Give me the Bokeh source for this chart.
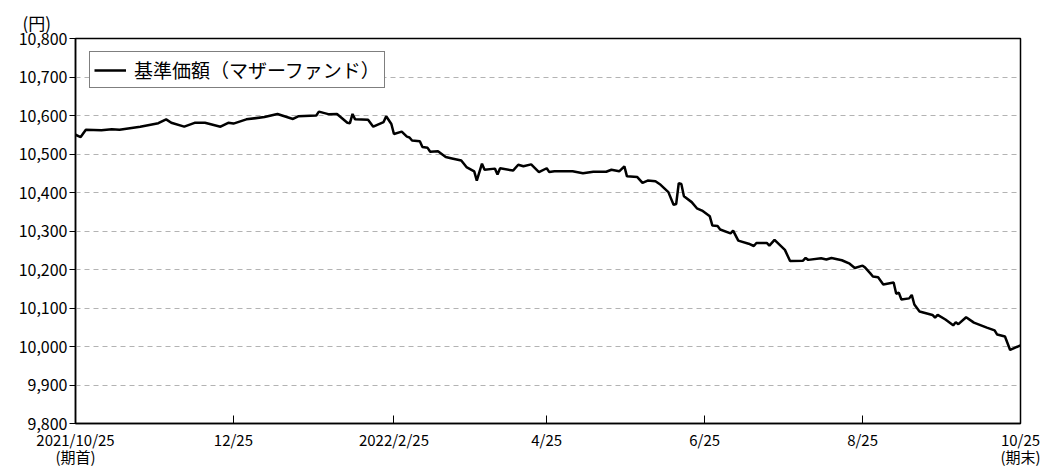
import pandas as pd
from bokeh.plotting import figure
from bokeh.models import FixedTicker, NumeralTickFormatter, Range1d
from bokeh.embed import file_html
from bokeh.resources import INLINE

# ---- data ----
dates = [
    "2021-10-25", "2021-10-27", "2021-10-29", "2021-11-04", "2021-11-08", "2021-11-11",
    "2021-11-19", "2021-11-26", "2021-11-29", "2021-12-01", "2021-12-06", "2021-12-10",
    "2021-12-14", "2021-12-20", "2021-12-23", "2021-12-25", "2021-12-30", "2022-01-06",
    "2022-01-11", "2022-01-17", "2022-01-19", "2022-01-26", "2022-01-27", "2022-01-31",
    "2022-02-03", "2022-02-07", "2022-02-08", "2022-02-09", "2022-02-10", "2022-02-15",
    "2022-02-17", "2022-02-21", "2022-02-22", "2022-02-24", "2022-02-25", "2022-02-28",
    "2022-03-02", "2022-03-03", "2022-03-04", "2022-03-07", "2022-03-08", "2022-03-10",
    "2022-03-11", "2022-03-14", "2022-03-17", "2022-03-19", "2022-03-23", "2022-03-25",
    "2022-03-28", "2022-03-29", "2022-03-31", "2022-04-01", "2022-04-05", "2022-04-06",
    "2022-04-07", "2022-04-12", "2022-04-14", "2022-04-16", "2022-04-19", "2022-04-22",
    "2022-04-25", "2022-04-26", "2022-04-28", "2022-05-02", "2022-05-05", "2022-05-09",
    "2022-05-13", "2022-05-18", "2022-05-20", "2022-05-23", "2022-05-25", "2022-05-26",
    "2022-05-30", "2022-06-01", "2022-06-03", "2022-06-06", "2022-06-08", "2022-06-11",
    "2022-06-13", "2022-06-14", "2022-06-15", "2022-06-16", "2022-06-17", "2022-06-20",
    "2022-06-22", "2022-06-24", "2022-06-27", "2022-06-28", "2022-06-30", "2022-07-01",
    "2022-07-05", "2022-07-06", "2022-07-08", "2022-07-12", "2022-07-14", "2022-07-15",
    "2022-07-19", "2022-07-20", "2022-07-22", "2022-07-26", "2022-07-28", "2022-08-02",
    "2022-08-03", "2022-08-04", "2022-08-09", "2022-08-11", "2022-08-13", "2022-08-17",
    "2022-08-20", "2022-08-22", "2022-08-25", "2022-08-26", "2022-08-28", "2022-08-29",
    "2022-08-31", "2022-09-02", "2022-09-06", "2022-09-07", "2022-09-08", "2022-09-09",
    "2022-09-12", "2022-09-13", "2022-09-14", "2022-09-16", "2022-09-21", "2022-09-22",
    "2022-09-23", "2022-09-26", "2022-09-29", "2022-09-30", "2022-10-01", "2022-10-04",
    "2022-10-07", "2022-10-12", "2022-10-15", "2022-10-16", "2022-10-19", "2022-10-21",
    "2022-10-25",
]
nav = [
    10550, 10544, 10563, 10562, 10564, 10563,
    10571, 10580, 10590, 10581, 10571, 10581,
    10581, 10571, 10581, 10579, 10590, 10596,
    10604, 10591, 10598, 10600, 10610, 10603,
    10604, 10581, 10580, 10604, 10590, 10589,
    10571, 10583, 10598, 10578, 10552, 10558,
    10545, 10543, 10535, 10533, 10518, 10516,
    10506, 10507, 10492, 10489, 10483, 10466,
    10455, 10431, 10475, 10459, 10462, 10447,
    10463, 10457, 10472, 10468, 10473, 10453,
    10463, 10453, 10455, 10455, 10455, 10450,
    10454, 10454, 10459, 10455, 10468, 10442,
    10440, 10425, 10431, 10429, 10420, 10401,
    10368, 10370, 10424, 10422, 10390, 10375,
    10359, 10353, 10338, 10314, 10313, 10304,
    10294, 10301, 10275, 10267, 10261, 10269,
    10269, 10262, 10277, 10251, 10222, 10223,
    10230, 10225, 10229, 10226, 10230, 10224,
    10215, 10204, 10210, 10205, 10190, 10182,
    10180, 10161, 10166, 10137, 10140, 10122,
    10125, 10134, 10109, 10091, 10082, 10075,
    10082, 10070, 10055, 10063, 10058, 10076,
    10062, 10049, 10042, 10031, 10026, 9991,
    10003,
]
series_name = "基準価額（マザーファンド）"
x_tick_dates = ["2021-10-25", "2021-12-25", "2022-02-25", "2022-04-25",
                "2022-06-25", "2022-08-25", "2022-10-25"]
x_tick_labels = ["2021/10/25\n(期首)", "12/25", "2022/2/25", "4/25",
                 "6/25", "8/25", "10/25\n(期末)"]
y_ticks = [9800, 9900, 10000, 10100, 10200, 10300, 10400, 10500, 10600, 10700, 10800]
unit_label = "(円)"

FONT = "Noto Sans CJK JP"

x = pd.to_datetime(dates)
tick_ts = pd.to_datetime(x_tick_dates)
tick_ms = [int(t.value // 10**6) for t in tick_ts]

p = figure(width=1042, height=470, x_axis_type="datetime",
           output_backend="svg", toolbar_location=None,
           min_border_left=75, min_border_right=22,
           min_border_top=38, min_border_bottom=47,
           title=unit_label, title_location="above")
p.x_range = Range1d(tick_ms[0], tick_ms[-1])
p.y_range = Range1d(y_ticks[0], y_ticks[-1])

p.title.align = "left"
p.title.offset = -53
p.title.standoff = 8
p.title.text_font = FONT
p.title.text_font_size = "17px"
p.title.text_font_style = "normal"
p.title.text_color = "black"

p.line(x, nav, line_color="black", line_width=2.5, legend_label=series_name)

# axes
p.xaxis.ticker = FixedTicker(ticks=tick_ms)
p.xaxis.major_label_overrides = dict(zip(tick_ms, x_tick_labels))
p.xaxis.major_tick_in = 8
p.xaxis.major_tick_out = 0
p.xaxis.minor_tick_line_color = None
p.xaxis.major_label_standoff = 5
p.xaxis.major_label_text_font = FONT
p.xaxis.major_label_text_font_size = "15px"
p.xaxis.major_label_text_line_height = 0.85
p.xaxis.major_label_text_color = "black"
p.xaxis.axis_line_color = "black"
p.xaxis.axis_line_width = 1.5
p.xaxis.major_tick_line_color = "black"

p.yaxis.ticker = FixedTicker(ticks=y_ticks)
p.yaxis.formatter = NumeralTickFormatter(format="0,0")
p.yaxis.major_tick_in = 0
p.yaxis.major_tick_out = 6
p.yaxis.minor_tick_line_color = None
p.yaxis.major_label_standoff = 2
p.yaxis.major_label_text_font = FONT
p.yaxis.major_label_text_font_size = "16px"
p.yaxis.major_label_text_color = "black"
p.yaxis.axis_line_color = "black"
p.yaxis.axis_line_width = 1.5
p.yaxis.major_tick_line_color = "black"

p.xgrid.grid_line_color = None
p.ygrid.grid_line_color = "#b3b3b3"
p.ygrid.grid_line_dash = "5 4"
p.ygrid.grid_line_width = 1

p.outline_line_color = "black"
p.outline_line_width = 1.5
p.background_fill_color = "white"
p.border_fill_color = "white"

# legend
lg = p.legend[0]
lg.location = (14, 335)
lg.margin = 0
lg.padding = 4
lg.glyph_width = 32
lg.label_standoff = 8
lg.label_text_font = FONT
lg.label_text_font_size = "19px"
lg.label_text_color = "black"
lg.border_line_color = "black"
lg.border_line_width = 1
lg.background_fill_alpha = 1.0
lg.spacing = 0

open("out.html", "w").write(file_html(p, INLINE))
